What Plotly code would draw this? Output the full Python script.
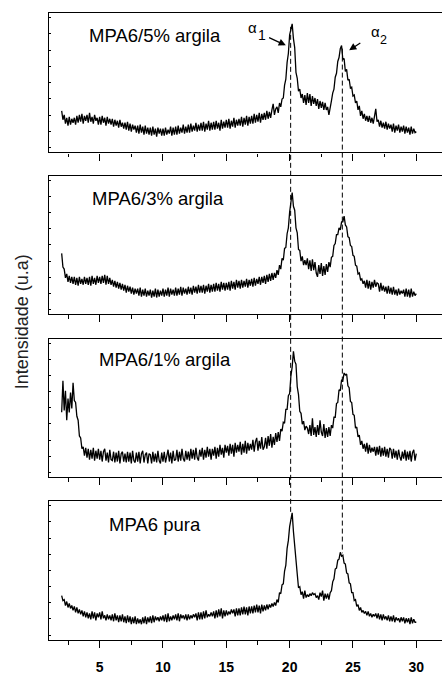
import numpy as np
import plotly.graph_objects as go

# ---------------- data ----------------
# 2-theta grid: 2.0 .. 30.0 step 0.1 ; intensities in arbitrary units
X_START = 2.0
X_STEP = 0.1
two_theta_ticks = [5, 10, 15, 20, 25, 30]
sample_labels = ["MPA6/5% argila", "MPA6/3% argila", "MPA6/1% argila", "MPA6 pura"]
y_title = "Intensidade (u.a)"

mpa6_5 = [
    42, 33, 38, 29, 35, 27, 36, 28, 34, 30,
    35, 28, 37, 30, 38, 31, 39, 29, 37, 32,
    38, 30, 40, 31, 36, 29, 38, 32, 35, 28,
    36, 28, 37, 30, 35, 27, 36, 29, 34, 28,
    34, 26, 33, 27, 32, 25, 33, 26, 30, 24,
    30, 23, 31, 22, 29, 21, 28, 23, 27, 20,
    27, 19, 28, 20, 26, 18, 27, 19, 25, 18,
    25, 17, 26, 18, 24, 16, 25, 19, 24, 17,
    24, 17, 25, 18, 23, 19, 26, 17, 25, 18,
    26, 18, 27, 19, 25, 20, 28, 19, 26, 20,
    28, 20, 29, 21, 27, 22, 30, 21, 28, 22,
    30, 22, 31, 21, 29, 23, 32, 22, 30, 23,
    31, 23, 32, 24, 30, 22, 33, 24, 31, 25,
    33, 25, 34, 24, 32, 26, 35, 25, 33, 27,
    34, 27, 36, 26, 35, 28, 37, 27, 36, 29,
    37, 29, 39, 30, 38, 31, 40, 30, 39, 33,
    40, 33, 42, 34, 41, 35, 43, 49, 38, 44,
    46, 40, 50, 46, 54, 55, 68, 74, 91, 100,
    119, 124, 130, 115, 106, 81, 75, 62, 64, 55,
    59, 50, 58, 48, 60, 50, 59, 47, 57, 49,
    55, 47, 54, 44, 52, 45, 51, 43, 50, 43,
    46, 38, 48, 52, 60, 64, 76, 80, 92, 96,
    105, 108, 94, 95, 82, 84, 73, 74, 65, 66,
    57, 58, 50, 52, 43, 47, 37, 42, 34, 39,
    32, 37, 31, 37, 30, 35, 29, 38, 44, 31,
    33, 26, 32, 25, 30, 24, 31, 23, 29, 24,
    28, 21, 29, 20, 27, 22, 28, 20, 26, 21,
    27, 19, 26, 20, 25, 18, 26, 19, 24, 20,
    21,
]

mpa6_3 = [
    62, 48, 46, 37, 41, 33, 39, 32, 38, 31,
    38, 30, 37, 29, 38, 31, 36, 30, 38, 31,
    37, 30, 38, 29, 39, 31, 37, 30, 39, 32,
    38, 31, 39, 32, 40, 30, 39, 31, 37, 30,
    35, 28, 34, 27, 33, 26, 32, 25, 31, 24,
    30, 22, 29, 23, 28, 21, 27, 20, 26, 21,
    26, 19, 27, 18, 25, 19, 26, 18, 24, 19,
    25, 17, 24, 18, 26, 17, 25, 18, 24, 19,
    26, 18, 25, 19, 27, 18, 26, 20, 25, 19,
    27, 19, 26, 20, 28, 19, 27, 21, 26, 20,
    28, 21, 27, 20, 29, 22, 28, 21, 30, 22,
    29, 22, 30, 21, 29, 23, 31, 22, 30, 23,
    31, 23, 32, 24, 31, 23, 33, 25, 32, 24,
    32, 25, 33, 24, 34, 26, 33, 25, 35, 27,
    34, 26, 35, 27, 34, 28, 36, 27, 35, 29,
    36, 28, 37, 29, 36, 31, 38, 30, 38, 32,
    39, 31, 40, 33, 41, 34, 42, 35, 42, 37,
    45, 40, 50, 46, 57, 55, 67, 68, 82, 88,
    104, 112, 124, 110, 106, 88, 83, 66, 65, 54,
    59, 50, 55, 50, 57, 46, 55, 44, 56, 45,
    53, 42, 38, 50, 41, 52, 39, 49, 40, 51,
    43, 53, 48, 58, 59, 70, 72, 81, 81, 88,
    86, 94, 94, 100, 91, 89, 79, 78, 70, 69,
    60, 59, 50, 49, 41, 42, 35, 36, 31, 34,
    27, 35, 26, 34, 25, 33, 27, 35, 28, 32,
    31, 23, 32, 24, 29, 23, 28, 21, 29, 21,
    27, 20, 28, 20, 25, 19, 26, 20, 24, 21,
    25, 18, 26, 18, 25, 17, 26, 18, 23, 19,
    21,
]

mpa6_1 = [
    66, 98, 68, 88, 58, 80, 66, 86, 70, 96,
    78, 76, 62, 58, 42, 40, 29, 31, 22, 30,
    20, 29, 18, 28, 19, 30, 17, 27, 19, 29,
    18, 27, 16, 26, 29, 17, 25, 15, 28, 18,
    17, 26, 15, 25, 16, 27, 14, 24, 26, 16,
    24, 15, 26, 16, 25, 14, 27, 17, 15, 25,
    16, 26, 14, 24, 27, 15, 23, 25, 14, 24,
    23, 14, 26, 16, 24, 15, 27, 17, 14, 25,
    16, 26, 15, 24, 28, 16, 25, 14, 27, 17,
    18, 28, 16, 26, 17, 29, 19, 16, 27, 18,
    26, 17, 29, 19, 28, 18, 30, 20, 17, 28,
    21, 30, 18, 28, 20, 31, 21, 29, 18, 29,
    22, 31, 19, 30, 21, 33, 23, 30, 20, 33,
    25, 32, 22, 34, 24, 33, 21, 35, 25, 33,
    26, 36, 23, 34, 25, 37, 24, 35, 27, 34,
    28, 38, 26, 36, 40, 27, 37, 29, 41, 28,
    31, 40, 29, 42, 32, 44, 30, 41, 33, 45,
    36, 46, 37, 49, 47, 56, 55, 69, 69, 83,
    85, 103, 112, 128, 118, 115, 92, 84, 67, 65,
    54, 57, 48, 52, 50, 44, 53, 42, 60, 43,
    51, 41, 53, 43, 58, 46, 42, 54, 40, 50,
    41, 51, 42, 53, 50, 61, 61, 75, 76, 89,
    88, 99, 98, 106, 104, 105, 93, 91, 77, 76,
    64, 63, 50, 51, 41, 43, 33, 37, 29, 34,
    26, 35, 24, 33, 25, 30, 26, 31, 22, 31,
    23, 32, 21, 30, 22, 31, 21, 29, 20, 30,
    28, 19, 29, 20, 27, 18, 28, 21, 17, 26,
    19, 28, 17, 26, 18, 27, 16, 25, 28, 17,
    24,
]

mpa6_pura = [
    45, 40, 41, 35, 39, 33, 37, 32, 35, 30,
    34, 28, 33, 27, 31, 26, 30, 24, 29, 23,
    28, 22, 27, 21, 29, 22, 28, 20, 27, 23,
    28, 21, 29, 22, 25, 20, 26, 21, 25, 20,
    26, 19, 27, 20, 25, 18, 25, 19, 26, 18,
    24, 17, 25, 18, 24, 16, 23, 17, 24, 16,
    22, 17, 21, 16, 23, 17, 24, 16, 23, 18,
    24, 17, 25, 18, 24, 20, 23, 19, 24, 20,
    25, 19, 26, 18, 27, 19, 24, 20, 25, 21,
    26, 20, 27, 19, 26, 22, 25, 21, 26, 20,
    26, 21, 25, 22, 26, 23, 27, 20, 28, 21,
    28, 21, 29, 22, 30, 23, 26, 24, 28, 24,
    29, 22, 30, 23, 31, 24, 32, 22, 30, 24,
    30, 25, 29, 26, 31, 27, 31, 24, 32, 25,
    32, 25, 33, 26, 34, 26, 33, 25, 34, 27,
    34, 27, 35, 28, 36, 28, 35, 27, 36, 29,
    35, 30, 36, 31, 36, 33, 37, 34, 38, 35,
    41, 38, 48, 47, 56, 57, 70, 76, 93, 101,
    115, 121, 129, 110, 94, 74, 67, 53, 54, 46,
    49, 42, 50, 43, 46, 44, 47, 45, 48, 46,
    47, 43, 45, 41, 48, 44, 50, 40, 47, 42,
    47, 41, 48, 50, 59, 62, 72, 73, 81, 82,
    89, 85, 86, 78, 77, 68, 67, 58, 57, 48,
    48, 40, 41, 34, 36, 30, 33, 28, 30, 27,
    29, 25, 29, 24, 27, 23, 26, 24, 27, 22,
    27, 21, 26, 20, 26, 21, 24, 20, 25, 19,
    24, 19, 25, 18, 23, 20, 22, 18, 23, 19,
    23, 17, 22, 18, 22, 16, 23, 17, 21, 18,
    18,
]

# reflection positions (2-theta) of the alpha1 / alpha2 crystalline peaks
alpha_positions = [20.08, 24.16]
alpha_labels = ["1", "2"]

series = [mpa6_5, mpa6_3, mpa6_1, mpa6_pura]
for s in series:
    assert len(s) == 281, len(s)

# ---------------- layout ----------------
W, H = 442, 675
FONT = "Arial, Liberation Sans, sans-serif"
Y_MAX = 141
X_RANGE = [1.0, 32.03]
domains = [(0.7777, 1.0), (0.5196, 0.7403), (0.2595, 0.4808), (0.0, 0.2217)]

fig = go.Figure()
layout = {}
for i, (ys, dom) in enumerate(zip(series, domains)):
    n = i + 1
    sfx = "" if n == 1 else str(n)
    xs = X_START + X_STEP * np.arange(len(ys))
    fig.add_trace(go.Scatter(
        x=xs, y=ys, mode="lines",
        line=dict(color="black", width=1.3),
        xaxis="x" + sfx, yaxis="y" + sfx,
        showlegend=False, hoverinfo="skip",
    ))
    layout["xaxis" + sfx] = dict(
        domain=[0, 1], anchor="y" + sfx, range=X_RANGE,
        showline=True, mirror=True, linecolor="black", linewidth=1.3,
        ticks="outside", ticklen=7, tickwidth=1.2, tickcolor="black",
        tickvals=two_theta_ticks, ticktext=["<b>%d</b>" % v for v in two_theta_ticks],
        showticklabels=(n == 4), ticklabelstandoff=7,
        tickfont=dict(family=FONT, size=14, color="black"),
        minor=dict(ticks="outside", ticklen=3.5, tickwidth=1, tickcolor="black",
                   tick0=0, dtick=2.5),
        showgrid=False, zeroline=False,
    )
    layout["yaxis" + sfx] = dict(
        domain=list(dom), anchor="x" + sfx, range=[0, Y_MAX],
        showline=True, mirror=False, linecolor="black", linewidth=1.3,
        ticks="inside", ticklen=2, tickwidth=1, tickcolor="black",
        tick0=5, dtick=16.4, showticklabels=False,
        showgrid=False, zeroline=False,
    )

annotations = []
# sample labels
label_pos = [(4.0, 118), (4.23, 117.7), (4.79, 119.7), (5.58, 117.3)]
for i, (txt, (lx, ly)) in enumerate(zip(sample_labels, label_pos)):
    sfx = "" if i == 0 else str(i + 1)
    annotations.append(dict(
        x=lx, y=ly, xref="x" + sfx, yref="y" + sfx, text=txt, showarrow=False,
        xanchor="left", yanchor="middle",
        font=dict(family=FONT, size=18.5, color="black"),
    ))

# alpha symbols with subscripts (top panel)
annotations += [
    dict(x=17.08, y=126.5, xref="x", yref="y", text="\u03b1", showarrow=False,
         xanchor="center", yanchor="middle", font=dict(family=FONT, size=15, color="black")),
    dict(x=17.81, y=119, xref="x", yref="y", text=alpha_labels[0], showarrow=False,
         xanchor="center", yanchor="middle", font=dict(family=FONT, size=14, color="black")),
    dict(x=26.77, y=122.5, xref="x", yref="y", text="\u03b1", showarrow=False,
         xanchor="center", yanchor="middle", font=dict(family=FONT, size=15, color="black")),
    dict(x=27.4, y=114, xref="x", yref="y", text=alpha_labels[1], showarrow=False,
         xanchor="center", yanchor="middle", font=dict(family=FONT, size=12.5, color="black")),
]
# arrows
for (hx, hy, tx, ty) in [(19.70, 108.3, 18.26, 116.7), (24.70, 103.3, 25.70, 111.7)]:
    annotations.append(dict(
        x=hx, y=hy, ax=tx, ay=ty, xref="x", yref="y", axref="x", ayref="y",
        text="", showarrow=True, arrowhead=2, arrowsize=1.1, arrowwidth=1.3,
        arrowcolor="black", standoff=0, startstandoff=0,
    ))

# y-axis title
annotations.append(dict(
    x=-0.0687, y=0.5066, xref="paper", yref="paper", text=y_title, showarrow=False,
    textangle=-90, xanchor="center", yanchor="middle",
    font=dict(family=FONT, size=18, color="#222"),
))

# dashed guide lines through the alpha peaks (top panel -> bottom panel)
top_dom, bot_dom = domains[0], domains[3]
dash_ext = [(127, 127), (105, 88)]  # heights (data units) in top / bottom panel
shapes = []
for xpos, (htop, hbot) in zip(alpha_positions, dash_ext):
    y_top = top_dom[0] + htop / Y_MAX * (top_dom[1] - top_dom[0])
    y_bot = bot_dom[0] + hbot / Y_MAX * (bot_dom[1] - bot_dom[0])
    shapes.append(dict(
        type="line", xref="x", yref="paper", x0=xpos, x1=xpos, y0=y_top, y1=y_bot,
        line=dict(color="black", width=1, dash="5px,3px"),
    ))

fig.update_layout(
    **layout,
    annotations=annotations,
    shapes=shapes,
    width=W, height=H,
    margin=dict(l=49, r=0, t=13, b=28, pad=0),
    paper_bgcolor="white", plot_bgcolor="white",
    font=dict(family=FONT, color="black"),
    showlegend=False,
)

fig.write_html(
    "out.html",
    config={"displayModeBar": False},
    post_script="document.body.style.margin='0';document.body.style.overflow='hidden';",
)
